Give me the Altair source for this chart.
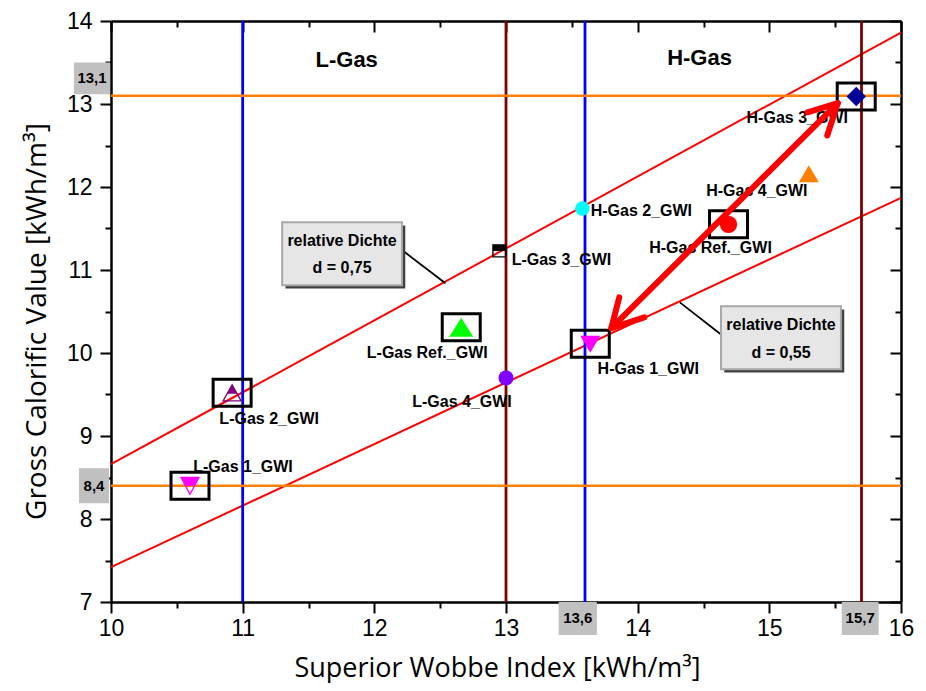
import altair as alt
import pandas as pd

PW, PH = 790, 581

# ---------------- data ----------------
gas_names = ["L-Gas 1_GWI", "L-Gas 2_GWI", "L-Gas 3_GWI", "L-Gas 4_GWI", "L-Gas Ref._GWI",
             "H-Gas 1_GWI", "H-Gas 2_GWI", "H-Gas 3_GWI", "H-Gas 4_GWI", "H-Gas Ref._GWI"]
wobbe = [10.60, 10.92, 12.95, 13.00, 12.66, 13.64, 13.58, 15.66, 15.30, 14.69]
gcv = [8.40, 9.52, 11.23, 9.70, 10.31, 10.11, 11.74, 13.09, 12.16, 11.55]
boxed = [True, True, False, False, True, True, False, True, False, True]

d_labels = ["d = 0,75", "d = 0,55"]
d_wobbe_ends = [10, 16]
d075_gcv_ends = [8.66, 13.86]
d055_gcv_ends = [7.42, 11.87]

vline_x = [11, 13, 13.6, 15.7]
hline_y = [13.1, 8.4]

x_ticks = [10, 10.5, 11, 11.5, 12, 12.5, 13, 13.5, 14, 14.5, 15, 15.5, 16]
y_ticks = [7, 7.5, 8, 8.5, 9, 9.5, 10, 10.5, 11, 11.5, 12, 12.5, 13, 13.5, 14]

# arrow (double headed) between H-Gas 1 and H-Gas 3
arrow_seg = ["shaft", "shaft", "headA", "headA", "headA", "headB", "headB", "headB"]
arrow_x = [13.80, 15.52, 15.29, 15.52, 15.44, 13.86, 13.80, 14.05]
arrow_y = [10.30, 13.01, 12.90, 13.01, 12.62, 10.67, 10.30, 10.43]

# annotation boxes "relative Dichte"
note_x1 = [11.30, 14.633]
note_x2 = [12.21, 15.544]
note_y1 = [11.575, 10.563]
note_y2 = [10.816, 9.804]
note_cx = [11.755, 15.089]
note_line1_y = [11.346, 10.334]
note_line2_y = [11.020, 9.997]
leader_x = [[12.21, 12.54], [14.66, 14.32]]
leader_y = [[11.24, 10.84], [10.19, 10.61]]

region_names = ["L-Gas", "H-Gas"]
region_x = [11.79, 14.47]
region_y = [13.53, 13.55]

# ---------------- styles ----------------
marker_shape = [
    "M-0.9,-0.85L0.9,-0.85L0.45,0L-0.45,0Z",
    "M0,-0.8L0.51,0.1L-0.51,0.1Z",
    "M-0.65,-0.6H0.65V0H-0.65Z",
    "circle",
    "M0,-0.95L1.2,0.95L-1.2,0.95Z",
    "M-1,-0.8L1,-0.8L0,0.9Z",
    "circle",
    "diamond",
    "M0,-0.85L1,0.85L-1,0.85Z",
    "circle",
]
marker_color = ["#FF00FF", "#800080", "#000000", "#8000FF", "#00FF00",
                "#FF00FF", "#00FFFF", "#000099", "#FF8000", "#FF0000"]
marker_size = [400, 400, 400, 225, 400, 400, 210, 380, 400, 300]
outline_idx = [0, 1, 2]
outline_shape = ["M-0.9,-0.85L0.9,-0.85L0,0.85Z", "M0,-0.8L0.9,0.8L-0.9,0.8Z",
                 "M-0.65,-0.6H0.65V0.6H-0.65Z"]
label_dx = [53, 37, 62, -44, -34, 58, 59, -59, -52, -18]
label_dy = [-19, 26, 9, 24, 26, 25, 2, 21, 17, 24]
vline_color = ["#0000FF", "#800000", "#0000FF", "#800000"]

FONT = "Liberation Sans"
xs = alt.Scale(domain=[10, 16], nice=False, zero=False)
ys = alt.Scale(domain=[7, 14], nice=False, zero=False)


def X(f, **kw):
    kw.setdefault("axis", None)
    return alt.X(f, type="quantitative", scale=xs, **kw)


def Y(f, **kw):
    kw.setdefault("axis", None)
    return alt.Y(f, type="quantitative", scale=ys, **kw)


tick_cond = {"condition": {"test": "datum.value % 1 === 0", "value": 11}, "value": 6}
lab_expr = "datum.value % 1 === 0 ? format(datum.value, 'd') : ''"
common_ax = dict(tickSize=tick_cond, tickWidth=2, tickColor="black", domainColor="black",
                 domainWidth=2.5, grid=False)

ax_x = alt.Axis(values=x_ticks, labelExpr=lab_expr, labelFont=FONT, labelFontSize=23,
                labelColor="black", labelPadding=4, labelFlush=False, labelOverlap=False,
                title="Superior Wobbe Index [kWh/m³]", titleFont="Open Sans", titleFontSize=27,
                titleFontWeight="normal", titleColor="black", titleX=386, titleY=66,
                titleBaseline="middle", titleAlign="center", orient="bottom", **common_ax)
ax_y = alt.Axis(values=y_ticks, labelExpr=lab_expr, labelFont=FONT, labelFontSize=23,
                labelColor="black", labelPadding=8, labelFlush=False, labelOverlap=False,
                title="Gross Calorific Value [kWh/m³]", titleFont="Open Sans", titleFontSize=28,
                titleFontWeight="normal", titleColor="black", titleX=-74, titleY=300,
                titleAngle=-90, titleBaseline="middle", titleAlign="center", orient="left",
                **common_ax)
ax_top = alt.Axis(values=x_ticks, labels=False, title=None, orient="bottom", offset=-PH, **common_ax)
ax_right = alt.Axis(values=y_ticks, labels=False, title=None, orient="left", offset=-PW, **common_ax)

# ---------------- frames ----------------
dlines = pd.DataFrame({
    "W": d_wobbe_ends + d_wobbe_ends,
    "H": d075_gcv_ends + d055_gcv_ends,
    "d": [d_labels[0]] * 2 + [d_labels[1]] * 2,
})
pts = pd.DataFrame({"name": gas_names, "W": wobbe, "H": gcv, "boxed": boxed,
                    "shape": marker_shape, "color": marker_color, "size": marker_size})
outl = pd.DataFrame({"W": [wobbe[i] for i in outline_idx], "H": [gcv[i] for i in outline_idx],
                     "shape": outline_shape, "color": [marker_color[i] for i in outline_idx]})
vl = pd.DataFrame({"x": vline_x, "c": vline_color})
hl = pd.DataFrame({"y": hline_y})
arrow = pd.DataFrame({"seg": arrow_seg, "x": arrow_x, "y": arrow_y, "o": list(range(len(arrow_x)))})
notes = pd.DataFrame({"x1": note_x1, "x2": note_x2, "y1": note_y1, "y2": note_y2,
                      "cx": note_cx, "l1": note_line1_y, "l2": note_line2_y, "d": d_labels})
leaders = pd.DataFrame({
    "x": leader_x[0] + leader_x[1], "y": leader_y[0] + leader_y[1],
    "g": ["a", "a", "b", "b"],
})
regions = pd.DataFrame({"t": region_names, "x": region_x, "y": region_y})

# ---------------- layers ----------------
axis_layer = alt.Chart(dlines).mark_line(opacity=0).encode(
    x=X("W", axis=ax_x), y=Y("H", axis=ax_y), detail="d")
frame_layer = alt.Chart(dlines).mark_line(opacity=0).encode(
    x=X("W", axis=ax_top), y=Y("H", axis=ax_right), detail="d")

d_layer = alt.Chart(dlines).mark_line(color="#FF0000", strokeWidth=2).encode(
    x=X("W"), y=Y("H"), detail="d")

v_layer = alt.Chart(vl).mark_rule(strokeWidth=2.8).encode(
    x=X("x"), color=alt.Color("c:N", scale=None))
h_layer = alt.Chart(hl).mark_rule(strokeWidth=2.5, color="#FF8000").encode(y=Y("y"))

# grey value labels on the axes
ylab = pd.DataFrame({"t": ["13,1", "8,4"], "yc": [13.31, 8.40], "y1": [13.50, 8.61],
                     "y2": [13.117, 8.19], "px1": [-37, -32], "px2": [-1, -2], "pc": [-19, -17]})
xlab = pd.DataFrame({"t": ["13,6", "15,7"], "xc": [13.545, 15.69], "x1": [13.40, 15.55],
                     "x2": [13.69, 15.83]})
ylab_layers = []
for _, r in ylab.iterrows():
    sub = ylab[ylab.t == r.t]
    ylab_layers.append(alt.Chart(sub).mark_rect(color="#C0C0C0").encode(
        x=alt.value(r.px1), x2=alt.value(r.px2), y=Y("y1"), y2="y2"))
    ylab_layers.append(alt.Chart(sub).mark_text(font=FONT, fontSize=15, fontWeight="bold",
                                                color="black").encode(
        x=alt.value(r.pc), y=Y("yc"), text="t"))
xlab_rect = alt.Chart(xlab).mark_rect(color="#C0C0C0").encode(
    x=X("x1"), x2="x2", y=alt.value(PH), y2=alt.value(PH + 33))
xlab_text = alt.Chart(xlab).mark_text(font=FONT, fontSize=15, fontWeight="bold",
                                      color="black").encode(
    x=X("xc"), y=alt.value(PH + 16), text="t")

# note boxes
note_shadow = alt.Chart(notes).transform_calculate(
    sx1="datum.x1 + 0.025", sx2="datum.x2 + 0.025", sy1="datum.y1 - 0.04", sy2="datum.y2 - 0.04"
).mark_rect(color="#404040").encode(x=X("sx1:Q"), x2="sx2:Q", y=Y("sy1:Q"), y2="sy2:Q")
note_box = alt.Chart(notes).mark_rect(fill="#E6E6E6", stroke="#A8A8A8", strokeWidth=2).encode(
    x=X("x1"), x2="x2", y=Y("y1"), y2="y2")
note_t1 = alt.Chart(notes).mark_text(font=FONT, fontSize=16, fontWeight="bold",
                                     color="black").encode(
    x=X("cx"), y=Y("l1"), text=alt.value("relative Dichte"))
note_t2 = alt.Chart(notes).mark_text(font=FONT, fontSize=16, fontWeight="bold",
                                     color="black").encode(
    x=X("cx"), y=Y("l2"), text="d")
leader_layer = alt.Chart(leaders).mark_line(color="black", strokeWidth=1.8).encode(
    x=X("x"), y=Y("y"), detail="g")

region_layer = alt.Chart(regions).mark_text(font=FONT, fontSize=22, fontWeight="bold",
                                            color="black").encode(
    x=X("x"), y=Y("y"), text="t")

box_layer = alt.Chart(pts).transform_filter("datum.boxed").mark_point(
    shape="M-1.9,-1.35H1.9V1.35H-1.9Z", size=400, filled=False, stroke="black",
    strokeWidth=3, opacity=1).encode(x=X("W"), y=Y("H"))

marker_layer = alt.Chart(pts).mark_point(filled=True, opacity=1, strokeWidth=0).encode(
    x=X("W"), y=Y("H"),
    shape=alt.Shape("shape:N", scale=None),
    color=alt.Color("color:N", scale=None),
    size=alt.Size("size:Q", scale=None))
outline_layer = alt.Chart(outl).mark_point(filled=False, opacity=1, strokeWidth=1.3, size=400).encode(
    x=X("W"), y=Y("H"),
    shape=alt.Shape("shape:N", scale=None),
    color=alt.Color("color:N", scale=None))

label_layers = []
for i, n in enumerate(gas_names):
    label_layers.append(
        alt.Chart(pts[pts.name == n]).mark_text(
            font=FONT, fontSize=16, fontWeight="bold", color="black",
            dx=label_dx[i], dy=label_dy[i]).encode(x=X("W"), y=Y("H"), text="name"))

arrow_layer = alt.Chart(arrow).mark_line(color="#FF0000", strokeWidth=6, strokeCap="round",
                                         strokeJoin="round").encode(
    x=X("x"), y=Y("y"), detail="seg", order="o")

chart = alt.layer(
    axis_layer, frame_layer, d_layer, v_layer, h_layer,
    *ylab_layers, xlab_rect, xlab_text,
    leader_layer, note_shadow, note_box, note_t1, note_t2, region_layer,
    box_layer, marker_layer, outline_layer, *label_layers, arrow_layer,
).resolve_axis(x="independent", y="independent").properties(
    width=PW, height=PH,
    autosize=alt.AutoSizeParams(type="none"),
    padding={"left": 103, "top": 13, "right": 17, "bottom": 81},
    background="white",
).configure_view(stroke=None)

chart.save("out.html", embed_options={"renderer": "svg", "actions": False})
